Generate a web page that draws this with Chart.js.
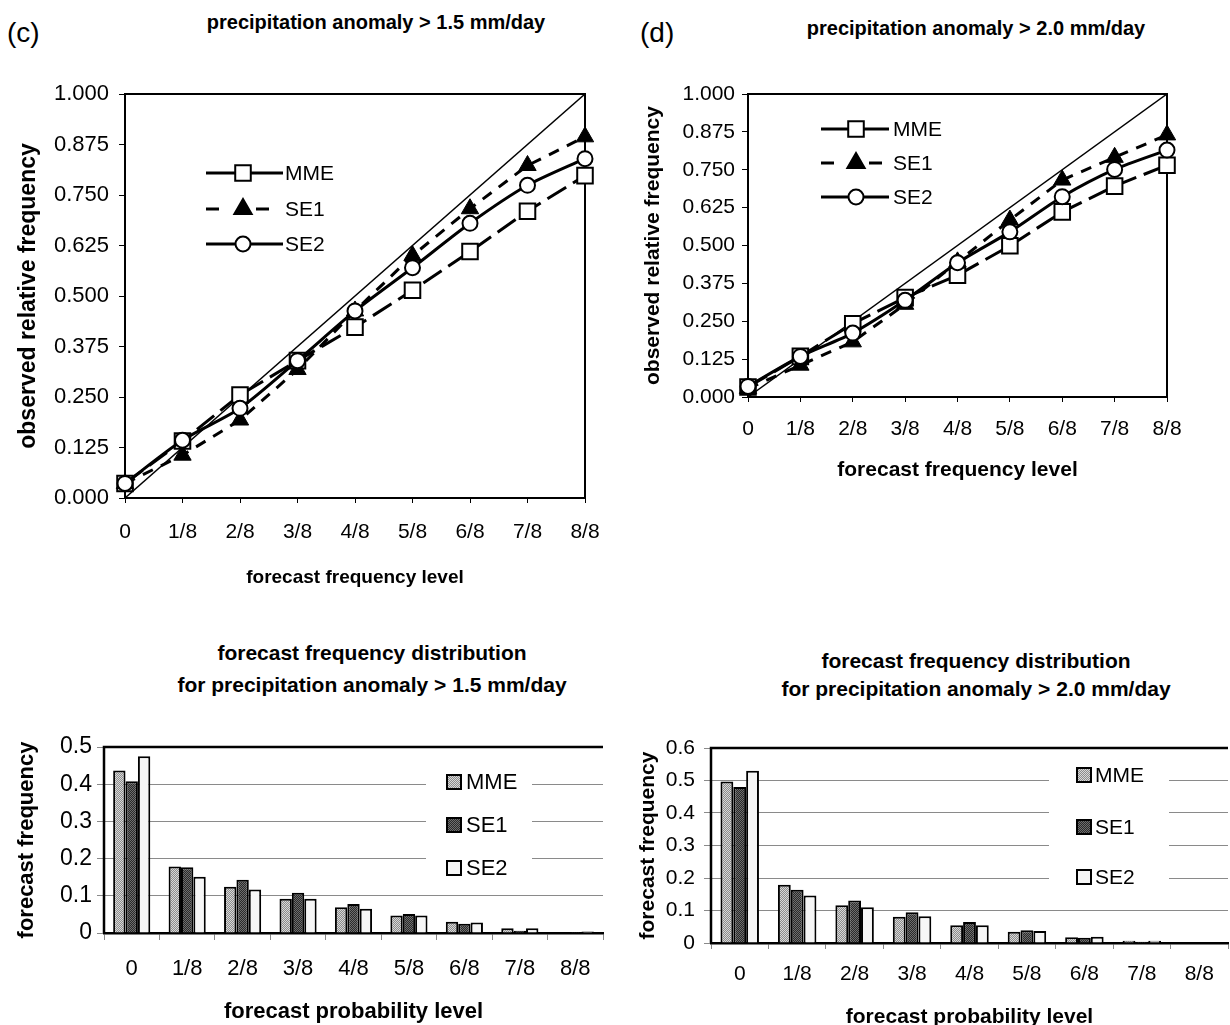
<!DOCTYPE html>
<html>
<head>
<meta charset="utf-8">
<script src="https://cdn.jsdelivr.net/npm/chart.js@4.4.0/dist/chart.umd.min.js"></script>
<style>
  body { margin: 0; width: 1230px; height: 1025px; overflow: hidden; background: #fff; position: relative;
         font-family: "Liberation Sans", Arial, Helvetica, sans-serif; color: #000; }
  .tag { position: absolute; font-size: 28px; line-height: 1; }
  .ttl { position: absolute; font-weight: bold; line-height: 1; white-space: nowrap; transform: translate(-50%, -50%); }
  canvas { position: absolute; }
</style>
</head>
<body>
<div class="tag" style="left:7px;top:19px">(c)</div>
<div class="ttl" style="left:376px;top:22px;font-size:20px">precipitation anomaly &gt; 1.5 mm/day</div>
<div class="tag" style="left:640px;top:19px">(d)</div>
<div class="ttl" style="left:976px;top:28px;font-size:20px">precipitation anomaly &gt; 2.0 mm/day</div>
<div class="ttl" style="left:372px;top:652px;font-size:21px">forecast frequency distribution</div>
<div class="ttl" style="left:372px;top:684px;font-size:21px">for precipitation anomaly &gt; 1.5 mm/day</div>
<div class="ttl" style="left:976px;top:660px;font-size:21px">forecast frequency distribution</div>
<div class="ttl" style="left:976px;top:688px;font-size:21px">for precipitation anomaly &gt; 2.0 mm/day</div>

<canvas id="cLine" width="620" height="620" style="left:0;top:0"></canvas>
<canvas id="dLine" width="600" height="500" style="left:620px;top:0"></canvas>
<canvas id="cBar" width="610" height="325" style="left:0;top:700px"></canvas>
<canvas id="dBar" width="620" height="330" style="left:620px;top:700px"></canvas>

<script>
// categories and tick labels
const levels = ['0', '1/8', '2/8', '3/8', '4/8', '5/8', '6/8', '7/8', '8/8'];
const relTicks = [0, 0.125, 0.25, 0.375, 0.5, 0.625, 0.75, 0.875, 1];
const barTicksC = [0, 0.1, 0.2, 0.3, 0.4, 0.5];
const barTicksD = [0, 0.1, 0.2, 0.3, 0.4, 0.5, 0.6];
const seriesNames = ['MME', 'SE1', 'SE2'];

// perfect reliability line, from (0,0) to (8/8,1)
const diagonal = [0, null, null, null, null, null, null, null, 1];

// (c) observed relative frequency, anomaly > 1.5 mm/day
const relC_MME = [0.036, 0.141, 0.255, 0.340, 0.423, 0.514, 0.610, 0.710, 0.798];
const relC_SE1 = [0.036, 0.106, 0.193, 0.318, 0.463, 0.600, 0.716, 0.823, 0.894];
const relC_SE2 = [0.036, 0.143, 0.222, 0.340, 0.463, 0.570, 0.680, 0.774, 0.840];

// (d) observed relative frequency, anomaly > 2.0 mm/day
const relD_MME = [0.033, 0.134, 0.242, 0.328, 0.402, 0.499, 0.611, 0.696, 0.765];
const relD_SE1 = [0.028, 0.105, 0.182, 0.306, 0.446, 0.584, 0.716, 0.791, 0.865];
const relD_SE2 = [0.035, 0.134, 0.211, 0.319, 0.443, 0.545, 0.661, 0.751, 0.815];

// forecast frequency distributions
const freqC_MME = [0.437, 0.179, 0.124, 0.092, 0.069, 0.047, 0.030, 0.013, 0.002];
const freqC_SE1 = [0.408, 0.177, 0.143, 0.108, 0.078, 0.051, 0.025, 0.006, 0.003];
const freqC_SE2 = [0.475, 0.151, 0.117, 0.092, 0.065, 0.047, 0.028, 0.013, 0.004];

const freqD_MME = [0.497, 0.179, 0.116, 0.081, 0.055, 0.035, 0.018, 0.007, 0.002];
const freqD_SE1 = [0.480, 0.164, 0.131, 0.095, 0.065, 0.039, 0.016, 0.004, 0.001];
const freqD_SE2 = [0.530, 0.146, 0.110, 0.082, 0.055, 0.037, 0.019, 0.007, 0.002];

const FONT = '"Liberation Sans", Arial, Helvetica, sans-serif';
Chart.defaults.font.family = FONT;
Chart.defaults.color = '#000';

function stipple(a, b) {
  const cv = document.createElement('canvas');
  cv.width = 2; cv.height = 2;
  const g = cv.getContext('2d');
  g.fillStyle = a; g.fillRect(0, 0, 2, 2);
  g.fillStyle = b; g.fillRect(0, 0, 1, 1); g.fillRect(1, 1, 1, 1);
  return g.createPattern(cv, 'repeat');
}
const fillMME = stipple('#8c8c8c', '#d8d8d8');
const fillSE1 = stipple('#2a2a2a', '#6e6e6e');
const fillSE2 = '#f6f6f6';

function marker(ctx, style, r, x, y, fill) {
  ctx.save();
  ctx.setLineDash([]);
  ctx.lineWidth = 2;
  ctx.strokeStyle = '#000';
  ctx.fillStyle = fill;
  ctx.beginPath();
  if (style === 'rect') {
    const s = r * Math.SQRT1_2;
    ctx.rect(x - s, y - s, 2 * s, 2 * s);
  } else if (style === 'triangle') {
    ctx.moveTo(x, y - r);
    ctx.lineTo(x + r * 0.866, y + r * 0.5);
    ctx.lineTo(x - r * 0.866, y + r * 0.5);
    ctx.closePath();
  } else {
    ctx.arc(x, y, r, 0, Math.PI * 2);
  }
  ctx.fill();
  ctx.stroke();
  ctx.restore();
}

// black box round the plot area
const framePlugin = {
  id: 'frame',
  beforeDatasetsDraw(chart, args, o) {
    const a = chart.chartArea, ctx = chart.ctx;
    ctx.save();
    ctx.strokeStyle = '#000';
    ctx.lineWidth = o.width || 2;
    ctx.beginPath();
    ctx.moveTo(a.left, a.bottom);
    ctx.lineTo(a.left, a.top);
    ctx.lineTo(a.right, a.top);
    if (o.closed) { ctx.lineTo(a.right, a.bottom); ctx.closePath(); }
    ctx.stroke();
    ctx.restore();
  }
};

// legend drawn inside the plot, as in the original
const keyPlugin = {
  id: 'key',
  beforeDatasetsDraw(chart, args, o) {
    if (!o.box) return;
    const ctx = chart.ctx;
    ctx.save();
    ctx.fillStyle = '#fff';
    ctx.fillRect(o.box[0], o.box[1], o.box[2], o.box[3]);
    ctx.restore();
  },
  afterDatasetsDraw(chart, args, o) {
    if (!o.rows) return;
    const ctx = chart.ctx;
    const sets = chart.data.datasets.filter(d => seriesNames.includes(d.label));
    sets.forEach((ds, k) => {
      const y = o.rows[k];
      ctx.save();
      if (o.kind === 'line') {
        const gap = ds.keyGap || 6;
        ctx.strokeStyle = '#000';
        ctx.lineWidth = ds.borderWidth;
        ctx.setLineDash(ds.keyDash || []);
        ctx.beginPath();
        ctx.moveTo(o.x0, y); ctx.lineTo(o.xm - 6, y);
        ctx.stroke();
        ctx.beginPath();
        ctx.moveTo(o.xm + gap, y); ctx.lineTo(o.x1, y);
        ctx.stroke();
        marker(ctx, ds.pointStyle, ds.pointRadius, o.xm, y, ds.pointBackgroundColor);
      } else {
        ctx.fillStyle = ds.backgroundColor;
        ctx.fillRect(o.x0, y - 7, 14, 14);
        ctx.strokeStyle = '#000';
        ctx.lineWidth = 2;
        ctx.strokeRect(o.x0, y - 7, 14, 14);
      }
      ctx.fillStyle = '#000';
      ctx.font = o.font + 'px ' + FONT;
      ctx.textBaseline = 'middle';
      ctx.fillText(ds.label, o.xt, y + 1);
      ctx.restore();
    });
  }
};

function lineChart(id, mme, se1, se2, L) {
  return new Chart(document.getElementById(id), {
    type: 'line',
    data: {
      labels: levels,
      datasets: [
        { label: 'perfect', data: diagonal, spanGaps: true, borderColor: '#000', borderWidth: 1.5,
          pointRadius: 0, order: 9 },
        { label: seriesNames[0], data: mme, borderColor: '#000', borderWidth: 3, borderDash: [22, 8],
          keyDash: [], pointStyle: 'rect', pointRadius: 11, pointBorderWidth: 2,
          pointBackgroundColor: '#fff', pointBorderColor: '#000', order: 3 },
        { label: seriesNames[1], data: se1, borderColor: '#000', borderWidth: 3, borderDash: [11, 9],
          keyDash: [13, 60], keyGap: 13, pointStyle: 'triangle', pointRadius: 10, pointBorderWidth: 1,
          pointBackgroundColor: '#000', pointBorderColor: '#000', order: 2 },
        { label: seriesNames[2], data: se2, borderColor: '#000', borderWidth: 3, tension: 0.25,
          keyDash: [], pointStyle: 'circle', pointRadius: 7.5, pointBorderWidth: 2,
          pointBackgroundColor: '#fff', pointBorderColor: '#000', order: 1 }
      ]
    },
    options: {
      responsive: false,
      devicePixelRatio: 1,
      animation: false,
      layout: { padding: { left: 0, top: L.top, right: L.right, bottom: 0 } },
      scales: {
        x: {
          offset: false,
          grid: { drawOnChartArea: false, drawTicks: true, tickLength: 5, color: '#000', lineWidth: 1 },
          border: { display: false },
          ticks: { font: { size: L.xFont }, padding: L.xPad, maxRotation: 0 },
          title: { display: true, text: 'forecast frequency level',
                   font: { size: L.xTitle, weight: 'bold' }, padding: { top: 0, bottom: L.xTitlePad } },
          afterFit: s => { s.height = L.xHeight; }
        },
        y: {
          min: 0, max: 1,
          afterBuildTicks: s => { s.ticks = relTicks.map(v => ({ value: v })); },
          grid: { drawOnChartArea: false, drawTicks: true, tickLength: 6, color: '#000', lineWidth: 1 },
          border: { display: false },
          ticks: { font: { size: L.yFont }, padding: L.yPad, callback: v => Number(v).toFixed(3) },
          title: { display: true, text: 'observed relative frequency',
                   font: { size: L.yTitle, weight: 'bold' }, padding: { top: L.yTitlePad, bottom: 0 } },
          afterFit: s => { s.width = L.yWidth; }
        }
      },
      plugins: {
        legend: { display: false },
        tooltip: { enabled: false },
        frame: { closed: true, width: 2 },
        key: { kind: 'line', rows: L.rows, x0: L.kx0, x1: L.kx1, xm: L.kxm, xt: L.kxt, font: L.kFont }
      }
    },
    plugins: [framePlugin, keyPlugin]
  });
}

function barChart(id, mme, se1, se2, ticks, L) {
  return new Chart(document.getElementById(id), {
    type: 'bar',
    data: {
      labels: levels,
      datasets: [
        { label: seriesNames[0], data: mme, backgroundColor: fillMME },
        { label: seriesNames[1], data: se1, backgroundColor: fillSE1 },
        { label: seriesNames[2], data: se2, backgroundColor: fillSE2 }
      ]
    },
    options: {
      responsive: false,
      devicePixelRatio: 1,
      animation: false,
      layout: { padding: { left: 0, top: L.top, right: L.right, bottom: 0 } },
      datasets: { bar: { categoryPercentage: 0.67, barPercentage: 1, borderWidth: 2, borderColor: '#000' } },
      scales: {
        x: {
          grid: { drawOnChartArea: false, drawTicks: true, tickLength: L.xTick, color: '#888', lineWidth: 1 },
          border: { display: true, color: '#000', width: 2.5 },
          ticks: { font: { size: L.xFont }, padding: L.xPad, maxRotation: 0 },
          title: { display: true, text: 'forecast probability level',
                   font: { size: L.xTitle, weight: 'bold' }, padding: { top: 0, bottom: L.xTitlePad } },
          afterFit: s => { s.height = L.xHeight; }
        },
        y: {
          min: 0, max: ticks[ticks.length - 1],
          afterBuildTicks: s => { s.ticks = ticks.map(v => ({ value: v })); },
          grid: { drawTicks: true, tickLength: 7, color: '#8a8a8a', lineWidth: 1 },
          border: { display: true, color: '#000', width: 2 },
          ticks: { font: { size: L.yFont }, padding: L.yPad,
                   callback: v => (v === 0 ? '0' : Number(v).toFixed(1)) },
          title: { display: true, text: 'forecast frequency',
                   font: { size: L.yTitle, weight: 'bold' }, padding: { top: L.yTitlePad, bottom: 0 } },
          afterFit: s => { s.width = L.yWidth; }
        }
      },
      plugins: {
        legend: { display: false },
        tooltip: { enabled: false },
        frame: { closed: false, width: 2.5 },
        key: { kind: 'bar', box: L.box, rows: L.rows, x0: L.kx0, xt: L.kxt, font: L.kFont }
      }
    },
    plugins: [framePlugin, keyPlugin]
  });
}

lineChart('cLine', relC_MME, relC_SE1, relC_SE2, {
  top: 94, right: 35, yWidth: 125, xHeight: 122,
  xFont: 21, xPad: 17, xTitle: 19, xTitlePad: 31,
  yFont: 22, yPad: 10, yTitle: 23, yTitlePad: 15,
  rows: [173, 209, 244], kx0: 206, kx1: 283, kxm: 243, kxt: 285, kFont: 21
});

lineChart('dLine', relD_MME, relD_SE1, relD_SE2, {
  top: 94, right: 53, yWidth: 128, xHeight: 103,
  xFont: 21, xPad: 15, xTitle: 21, xTitlePad: 17,
  yFont: 21, yPad: 7, yTitle: 21, yTitlePad: 21,
  rows: [129, 163, 197], kx0: 201, kx1: 269, kxm: 236, kxt: 273, kFont: 21
});

barChart('cBar', freqC_MME, freqC_SE1, freqC_SE2, barTicksC, {
  top: 47, right: 7, yWidth: 104, xHeight: 92,
  xTick: 7, xFont: 22, xPad: 16, xTitle: 22, xTitlePad: 0,
  yFont: 23, yPad: 5, yTitle: 22, yTitlePad: 14,
  box: [426, 62, 106, 125], rows: [82, 125, 168], kx0: 447, kxt: 466, kFont: 22
});

barChart('dBar', freqD_MME, freqD_SE1, freqD_SE2, barTicksD, {
  top: 48, right: 12, yWidth: 91, xHeight: 87,
  xTick: 6, xFont: 21, xPad: 13, xTitle: 21, xTitlePad: 0,
  yFont: 21, yPad: 9, yTitle: 21, yTitlePad: 16,
  box: [429, 60, 120, 132], rows: [75, 127, 177], kx0: 457, kxt: 475, kFont: 21
});
</script>
</body>
</html>
